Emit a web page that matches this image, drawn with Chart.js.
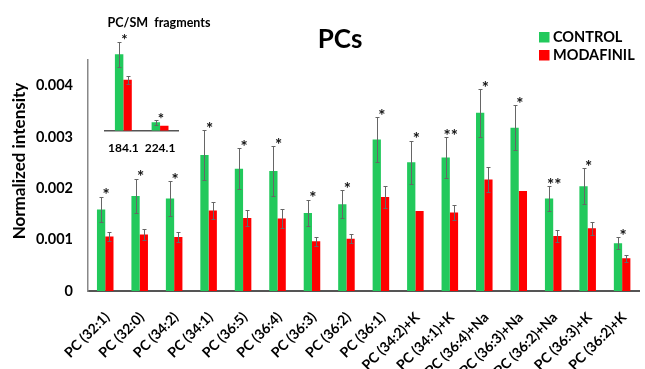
<!DOCTYPE html>
<html><head><meta charset="utf-8">
<script src="https://cdn.jsdelivr.net/npm/chart.js@4.4.1/dist/chart.umd.min.js"></script>
<style>
html,body{margin:0;padding:0;background:#fff;overflow:hidden;width:645px;height:369px;}
#wrap{position:relative;width:645px;height:369px;overflow:hidden;}
#main{position:absolute;left:0;top:0;}
#inset{position:absolute;left:95px;top:10px;}
</style></head><body>
<div id="wrap">
<canvas id="main" width="652" height="369"></canvas>
<canvas id="inset" width="130" height="150"></canvas>
</div>
<script>
// ---- main chart data ----
const categories = ['PC (32:1)','PC (32:0)','PC (34:2)','PC (34:1)','PC (36:5)','PC (36:4)','PC (36:3)','PC (36:2)','PC (36:1)','PC (34:2)+K','PC (34:1)+K','PC (36:4)+Na','PC (36:3)+Na','PC (36:2)+Na','PC (36:3)+K','PC (36:2)+K'];
const control      = [0.00159,0.00185,0.00180,0.00265,0.00238,0.00234,0.00152,0.00169,0.00295,0.00251,0.00260,0.00347,0.00318,0.00180,0.00204,0.00093];
const modafinil    = [0.00106,0.00110,0.00105,0.00157,0.00142,0.00141,0.00097,0.00102,0.00183,0.00156,0.00153,0.00217,0.00195,0.00107,0.00122,0.00064];
const controlErr   = [0.00025,0.00034,0.00034,0.00048,0.00040,0.00049,0.00026,0.00027,0.00043,0.00042,0.00040,0.00047,0.00044,0.00024,0.00035,0.00012];
const modafinilErr = [0.00008,0.00011,0.00009,0.00016,0.00016,0.00018,0.00009,0.00009,0.00021,0,0.00014,0.00025,0,0.00012,0.00012,0.00007];
const stars        = ['*','*','*','*','*','*','*','*','*','*','**','*','*','**','*','*'];
const yTicks       = [0, 0.001, 0.002, 0.003, 0.004];
const seriesNames  = ['CONTROL','MODAFINIL'];

// ---- inset data ----
const insetLabels       = ['184.1','224.1'];
const insetControl      = [0.0152, 0.00168];
const insetModafinil    = [0.0101, 0.00100];
const insetControlErr   = [0.0025, 0.00046];
const insetModafinilErr = [0.00086, 0];
const insetStars        = ['*','*'];

const FONT = 'Lato, "Open Sans", sans-serif';
const GREEN = '#22c95c', RED = '#ff0000';

function errStarPlugin(id, vals, errs, starArr, starSize) {
  return {
    id,
    afterDatasetsDraw(chart) {
      const ctx = chart.ctx, y = chart.scales.y, x = chart.scales.x;
      ctx.save();
      ctx.strokeStyle = '#666';
      ctx.lineWidth = 1;
      for (let i = 0; i < 2; i++) {
        const meta = chart.getDatasetMeta(i);
        meta.data.forEach((bar, j) => {
          const e = errs[i][j];
          if (!e) return;
          const v = vals[i][j];
          const yt = Math.round(y.getPixelForValue(v + e)) + 0.5;
          const yb = Math.round(y.getPixelForValue(v - e)) + 0.5;
          const bx = Math.round(bar.x) + 0.5;
          ctx.beginPath();
          ctx.moveTo(bx, yt); ctx.lineTo(bx, yb);
          ctx.moveTo(bx - 2, yt); ctx.lineTo(bx + 2, yt);
          ctx.moveTo(bx - 2, yb); ctx.lineTo(bx + 2, yb);
          ctx.stroke();
        });
      }
      ctx.fillStyle = '#111';
      ctx.font = 'bold ' + starSize + 'px ' + FONT;
      ctx.textAlign = 'center';
      ctx.textBaseline = 'alphabetic';
      starArr.forEach((s, j) => {
        const cx = x.getPixelForValue(j) + 1;
        const top = y.getPixelForValue(vals[0][j] + errs[0][j]);
        ctx.fillText(s, cx, top - 5 + 0.58 * starSize);
      });
      ctx.restore();
    }
  };
}

const mainText = {
  id: 'mainText',
  afterDraw(chart) {
    const ctx = chart.ctx;
    ctx.save();
    ctx.fillStyle = '#000';
    ctx.textBaseline = 'alphabetic';
    ctx.font = 'bold 26px ' + FONT;
    ctx.textAlign = 'center';
    ctx.fillText('PCs', 340, 48);
    // legend
    ctx.font = 'bold 14.5px ' + FONT;
    ctx.textAlign = 'left';
    ctx.fillStyle = GREEN; ctx.fillRect(539, 32, 10.5, 10.5);
    ctx.fillStyle = RED;   ctx.fillRect(539, 50, 10.5, 10.5);
    ctx.fillStyle = '#000';
    ctx.fillText(seriesNames[0], 553, 42);
    ctx.fillText(seriesNames[1], 553, 60);
    // y title
    ctx.translate(20, 161);
    ctx.rotate(-Math.PI / 2);
    ctx.textAlign = 'center';
    ctx.textBaseline = 'middle';
    ctx.font = 'bold 17px ' + FONT;
    ctx.fillText('Normalized intensity', 0, 0);
    ctx.restore();
  }
};

new Chart(document.getElementById('main'), {
  type: 'bar',
  data: {
    labels: categories,
    datasets: [
      { label: seriesNames[0], data: control, backgroundColor: GREEN, borderWidth: 0 },
      { label: seriesNames[1], data: modafinil, backgroundColor: RED, borderWidth: 0 }
    ]
  },
  options: {
    responsive: false,
    animation: false,
    devicePixelRatio: 1,
    layout: { padding: { top: 60, left: 0, right: 0, bottom: 0 } },
    datasets: { bar: { categoryPercentage: 0.48, barPercentage: 1.0 } },
    plugins: { legend: { display: false }, tooltip: { enabled: false }, title: { display: false } },
    scales: {
      x: {
        grid: { display: false, drawTicks: false },
        border: { display: true, color: '#555', width: 2 },
        ticks: { autoSkip: false, maxRotation: 45, minRotation: 45, color: '#000', padding: 18, labelOffset: 2,
                 font: { family: FONT, size: 14, weight: 'bold' } },
        afterFit(s) { s.height = 78; }
      },
      y: {
        min: 0, max: 0.0045,
        grid: { display: false, drawTicks: false },
        border: { display: true, color: '#888', width: 1.5 },
        afterBuildTicks(s) { s.ticks = yTicks.map(v => ({ value: v })); },
        ticks: { padding: 15, color: '#000', font: { family: FONT, size: 14.5, weight: 'bold' },
                 callback: v => v === 0 ? '0' : Number(v).toFixed(3) },
        afterFit(s) { s.width = 88; }
      }
    }
  },
  plugins: [errStarPlugin('mainErr', [control, modafinil], [controlErr, modafinilErr], stars, 17), mainText]
});

const insetText = {
  id: 'insetText',
  afterDraw(chart) {
    const ctx = chart.ctx;
    ctx.save();
    ctx.fillStyle = '#000';
    ctx.font = 'bold 12.5px ' + FONT;
    ctx.textAlign = 'center';
    ctx.textBaseline = 'alphabetic';
    ctx.fillText('PC/SM  fragments', 64, 17);
    ctx.restore();
  }
};

new Chart(document.getElementById('inset'), {
  type: 'bar',
  data: {
    labels: insetLabels,
    datasets: [
      { label: seriesNames[0], data: insetControl, backgroundColor: GREEN, borderWidth: 0 },
      { label: seriesNames[1], data: insetModafinil, backgroundColor: RED, borderWidth: 0 }
    ]
  },
  options: {
    responsive: false,
    animation: false,
    devicePixelRatio: 1,
    layout: { padding: { top: 20, left: 10, right: 46.6, bottom: 0 } },
    datasets: { bar: { categoryPercentage: 0.46, barPercentage: 1.0 } },
    plugins: { legend: { display: false }, tooltip: { enabled: false } },
    scales: {
      x: {
        grid: { display: false, drawTicks: false },
        border: { display: true, color: '#555', width: 1.5 },
        ticks: { padding: 10, color: '#000', font: { family: FONT, size: 12, weight: 'bold' } },
        afterFit(s) { s.height = 29.3; }
      },
      y: { display: false, min: 0, max: 0.02 }
    }
  },
  plugins: [errStarPlugin('insetErr', [insetControl, insetModafinil], [insetControlErr, insetModafinilErr], insetStars, 15), insetText]
});
</script>
</body></html>
